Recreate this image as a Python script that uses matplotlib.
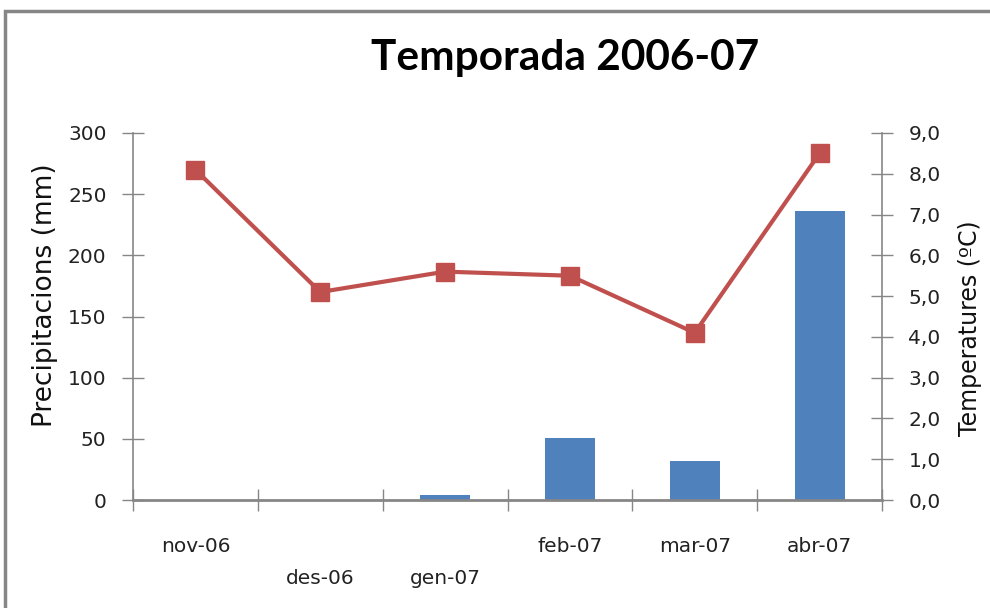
import matplotlib
matplotlib.use("Agg")
import matplotlib.pyplot as plt
import matplotlib.transforms as mtransforms
from matplotlib.patches import Rectangle
from matplotlib.ticker import FuncFormatter, MultipleLocator, FixedLocator

plt.rcParams['font.family'] = ['Lato', 'DejaVu Sans']

months = ["nov-06", "des-06", "gen-07", "feb-07", "mar-07", "abr-07"]
precip = [0, 0, 4, 51, 32, 236]
temps = [8.1, 5.1, 5.6, 5.5, 4.1, 8.5]
label_row = [0, 1, 1, 0, 0, 0]  # staggered label rows as in the reference

bar_color = "#4F81BD"
line_color = "#C0504D"
axis_color = "#868686"
tick_font = ['DejaVu Sans']

fig = plt.figure(figsize=(9.9, 6.08), dpi=100)
W, H = 990, 608
ax = fig.add_axes([133 / W, 1 - 500 / H, (882 - 133) / W, (500 - 133) / H])
ax2 = ax.twinx()

x = list(range(len(months)))
ax.bar(x, precip, width=0.4, color=bar_color, zorder=2)
ax2.plot(x, temps, color=line_color, lw=3, marker="s", ms=13,
         markerfacecolor=line_color, markeredgecolor=line_color, zorder=3)

ax.set_xlim(-0.5, len(months) - 0.5)
ax.set_ylim(0, 300)
ax2.set_ylim(0, 9)
ax.yaxis.set_major_locator(MultipleLocator(50))
ax2.yaxis.set_major_locator(MultipleLocator(1))
ax2.yaxis.set_major_formatter(FuncFormatter(lambda v, p: f"{v:.1f}".replace(".", ",")))

ax.xaxis.set_major_locator(FixedLocator([i - 0.5 for i in range(len(months) + 1)]))
ax.set_xticklabels([])

for a in (ax, ax2):
    a.spines["top"].set_visible(False)
    for s in ("bottom", "left", "right"):
        a.spines[s].set_color(axis_color)
ax.spines["right"].set_visible(False)
ax2.spines["left"].set_visible(False)
ax2.spines["bottom"].set_visible(False)
ax.spines["bottom"].set_linewidth(2.0)
ax.spines["left"].set_linewidth(1.2)
ax2.spines["right"].set_linewidth(1.2)

ax.tick_params(axis="x", direction="inout", length=16, width=1, color=axis_color)
ax.tick_params(axis="y", direction="inout", length=16, width=1, color=axis_color,
               labelsize=14.5, pad=11, labelcolor="#222222")
ax2.tick_params(axis="y", direction="inout", length=16, width=1, color=axis_color,
                labelsize=14.5, pad=11, labelcolor="#222222")
for lab in ax.get_yticklabels() + ax2.get_yticklabels():
    lab.set_family(tick_font)

trans = mtransforms.blended_transform_factory(ax.transData, ax.transAxes)
for i, (m, r) in enumerate(zip(months, label_row)):
    ax.text(i, -0.128 - 0.087 * r, m, transform=trans, ha="center", va="center",
            fontsize=14.5, family=tick_font, color="#222222")

ax.set_ylabel("Precipitacions (mm)", fontsize=19, family=tick_font, color="#111111")
ax2.set_ylabel("Temperatures (ºC)", fontsize=17, family=tick_font, color="#111111")
ax.yaxis.set_label_coords(-0.100, 0.559)
ax2.yaxis.set_label_coords(1.101, 0.469)

fig.text(565 / W, 1 - 58 / H, "Temporada 2006-07", ha="center", va="center",
         fontsize=30.5, fontweight="bold")

fig.patches.append(Rectangle((5 / W, -0.1), 1.2, 1 - 11 / H + 0.1,
                             transform=fig.transFigure, fill=False,
                             edgecolor=axis_color, lw=2.5))

fig.savefig("out.png", dpi=100)
